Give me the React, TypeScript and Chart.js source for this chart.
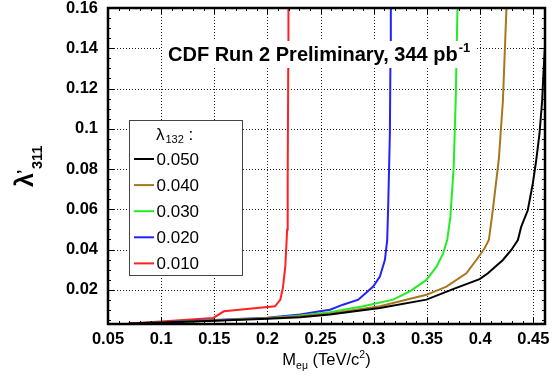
import React, { useEffect, useRef } from "react";
import { Chart, registerables } from "chart.js";

Chart.register(...registerables);

// ---- data ----
const seriesLabels = ["0.050", "0.040", "0.030", "0.020", "0.010"];
const seriesColors = ["#000000", "#a8761c", "#22ee22", "#2222ff", "#ff2222"];

const blackX = [0.07, 0.10, 0.15, 0.20, 0.2307, 0.2588, 0.3057, 0.3495, 0.3745, 0.3995, 0.4073, 0.4214, 0.4293, 0.4355, 0.4386, 0.4448, 0.4495, 0.4527, 0.4558, 0.4583, 0.4598, 0.462];
const blackY = [0.0032, 0.0037, 0.0046, 0.0056, 0.0063, 0.0077, 0.0110, 0.0151, 0.0203, 0.0253, 0.0282, 0.0348, 0.0398, 0.0447, 0.0513, 0.0595, 0.0727, 0.0842, 0.0974, 0.1138, 0.1303, 0.150];

const brownX = [0.07, 0.10, 0.15, 0.20, 0.2307, 0.2588, 0.3057, 0.3495, 0.3683, 0.387, 0.3964, 0.4042, 0.4082, 0.412, 0.4176, 0.4214, 0.4246, 0.4255];
const brownY = [0.0032, 0.0037, 0.0047, 0.0058, 0.0068, 0.0081, 0.0118, 0.0175, 0.0216, 0.0282, 0.0348, 0.0406, 0.0447, 0.0600, 0.0850, 0.1138, 0.158, 0.165];

const greenX = [0.07, 0.10, 0.15, 0.20, 0.2307, 0.2588, 0.29, 0.3182, 0.3339, 0.3495, 0.359, 0.3652, 0.369, 0.372, 0.3751, 0.377, 0.3786, 0.3792];
const greenY = [0.0032, 0.0037, 0.0048, 0.0059, 0.0072, 0.0088, 0.0118, 0.0151, 0.0192, 0.0249, 0.0315, 0.0381, 0.0447, 0.0562, 0.0809, 0.1138, 0.158, 0.165];

const blueX = [0.07, 0.10, 0.15, 0.20, 0.2307, 0.2495, 0.2588, 0.271, 0.2854, 0.2994, 0.3057, 0.3104, 0.3126, 0.3135, 0.3151, 0.3157, 0.316, 0.3162];
const blueY = [0.0032, 0.0039, 0.0050, 0.0061, 0.0077, 0.0093, 0.0101, 0.0126, 0.0151, 0.0216, 0.0266, 0.0348, 0.0447, 0.0611, 0.0974, 0.1385, 0.158, 0.165];

const redX = [0.069, 0.10, 0.149, 0.159, 0.207, 0.212, 0.2145, 0.2168, 0.2185, 0.219, 0.2195, 0.2197];
const redY = [0.0032, 0.0042, 0.0060, 0.0093, 0.0118, 0.0150, 0.0210, 0.0320, 0.0500, 0.0750, 0.1300, 0.165];

const xTicks = [0.05, 0.1, 0.15, 0.2, 0.25, 0.3, 0.35, 0.4, 0.45];
const yTicks = [0.02, 0.04, 0.06, 0.08, 0.1, 0.12, 0.14, 0.16];
const xMin = 0.05, xMax = 0.461, yMin = 0.003, yMax = 0.16;
const xMinorStep = 0.01, yMinorStep = 0.005;

const titleMain = "CDF Run 2 Preliminary, 344 pb";
const titleSup = "-1";

const FONT = "'Liberation Sans', Arial, Helvetica, sans-serif";

const pairs = (xs: number[], ys: number[]) => xs.map((x, i) => ({ x, y: ys[i] }));

const decorPlugin = {
  id: "decor",
  beforeDatasetsDraw(chart: any) {
    const { ctx, chartArea: a, scales } = chart;
    const xs = scales.x, ys = scales.y;
    ctx.save();
    ctx.strokeStyle = "#222";
    ctx.lineWidth = 1;
    ctx.setLineDash([1, 2]);
    xTicks.forEach((v) => {
      const px = Math.round(xs.getPixelForValue(v)) + 0.5;
      if (px <= a.left + 2 || px >= a.right - 2) return;
      ctx.beginPath(); ctx.moveTo(px, a.top); ctx.lineTo(px, a.bottom); ctx.stroke();
    });
    yTicks.forEach((v) => {
      const py = Math.round(ys.getPixelForValue(v)) + 0.5;
      if (py <= a.top + 2 || py >= a.bottom - 2) return;
      ctx.beginPath(); ctx.moveTo(a.left, py); ctx.lineTo(a.right, py); ctx.stroke();
    });
    ctx.restore();
  },
  afterDatasetsDraw(chart: any) {
    const { ctx, chartArea: a, scales, data } = chart;
    const xs = scales.x, ys = scales.y;
    ctx.save();
    // minor + major ticks on all sides
    ctx.strokeStyle = "#000";
    ctx.lineWidth = 1;
    for (let k = Math.ceil(xMin / xMinorStep); k * xMinorStep <= xMax + 1e-9; k++) {
      const v = k * xMinorStep;
      const major = Math.abs(v / 0.05 - Math.round(v / 0.05)) < 1e-6;
      const len = major ? 6 : 3;
      const px = Math.round(xs.getPixelForValue(v)) + 0.5;
      ctx.beginPath();
      ctx.moveTo(px, a.bottom); ctx.lineTo(px, a.bottom - len);
      ctx.moveTo(px, a.top); ctx.lineTo(px, a.top + len);
      ctx.stroke();
    }
    for (let k = Math.ceil(yMin / yMinorStep); k * yMinorStep <= yMax + 1e-9; k++) {
      const v = k * yMinorStep;
      const major = Math.abs(v / 0.02 - Math.round(v / 0.02)) < 1e-6;
      const len = major ? 6 : 3;
      const py = Math.round(ys.getPixelForValue(v)) + 0.5;
      ctx.beginPath();
      ctx.moveTo(a.left, py); ctx.lineTo(a.left + len, py);
      ctx.moveTo(a.right, py); ctx.lineTo(a.right - len, py);
      ctx.stroke();
    }
    // frame
    ctx.lineWidth = 2.5;
    ctx.strokeRect(a.left, a.top, a.right - a.left, a.bottom - a.top);

    // title box
    ctx.font = `bold 20px ${FONT}`;
    const tw = ctx.measureText(titleMain).width;
    const tx = 168, ty = 61;
    ctx.fillStyle = "#fff";
    ctx.fillRect(162, 41, tw + 24, 27);
    ctx.fillStyle = "#000";
    ctx.textAlign = "left";
    ctx.textBaseline = "alphabetic";
    ctx.fillText(titleMain, tx, ty);
    ctx.font = `bold 13px ${FONT}`;
    ctx.fillText(titleSup, tx + tw + 1, ty - 9);

    // legend box
    const lx = 129.5, ly = 120.5, lw = 113, lh = 155;
    ctx.fillStyle = "#fff";
    ctx.fillRect(lx, ly, lw, lh);
    ctx.strokeStyle = "#444";
    ctx.lineWidth = 1;
    ctx.strokeRect(lx, ly, lw, lh);
    ctx.fillStyle = "#000";
    ctx.font = `17px ${FONT}`;
    ctx.fillText("\u03bb", 156, 140);
    const lamW = ctx.measureText("\u03bb").width;
    ctx.font = `11px ${FONT}`;
    ctx.fillText("132", 156 + lamW + 1, 143);
    const subW = ctx.measureText("132").width;
    ctx.font = `17px ${FONT}`;
    ctx.fillText(" :", 156 + lamW + subW + 1, 140);
    data.datasets.forEach((ds: any, i: number) => {
      const cy = 159 + i * 26.1;
      ctx.strokeStyle = ds.borderColor;
      ctx.lineWidth = 2;
      ctx.beginPath(); ctx.moveTo(134, cy); ctx.lineTo(154, cy); ctx.stroke();
      ctx.fillStyle = "#000";
      ctx.font = `17px ${FONT}`;
      ctx.textBaseline = "middle";
      ctx.fillText(ds.label, 156.5, cy + 1);
    });
    ctx.textBaseline = "alphabetic";

    // x-axis title
    const cx = (a.left + a.right) / 2;
    const parts: [string, number, number][] = [["M", 16.5, 0], ["e\u03bc", 10.5, 4], [" (TeV/c", 16.5, 0], ["2", 10.5, -7], [")", 16.5, 0]];
    let total = 0;
    parts.forEach(([t, s]) => { ctx.font = `${s}px ${FONT}`; total += ctx.measureText(t).width; });
    let x0 = cx - total / 2;
    const by = 365;
    parts.forEach(([t, s, dy]) => {
      ctx.font = `${s}px ${FONT}`;
      ctx.fillText(t, x0, by + dy);
      x0 += ctx.measureText(t).width;
    });

    // y-axis title (rotated)
    ctx.translate(33, 187);
    ctx.rotate(-Math.PI / 2);
    ctx.font = `bold 25px ${FONT}`;
    ctx.fillText("\u03bb", 0, 0);
    const lw2 = ctx.measureText("\u03bb").width;
    ctx.font = `bold 16px ${FONT}`;
    ctx.fillText("\u2019", lw2 - 1, -4);
    ctx.font = `bold 14.5px ${FONT}`;
    ctx.fillText("311", lw2 + 4, 9);
    ctx.restore();
  },
};

export default function App() {
  const ref = useRef<HTMLCanvasElement | null>(null);
  useEffect(() => {
    if (!ref.current) return;
    const series = [pairs(blackX, blackY), pairs(brownX, brownY), pairs(greenX, greenY), pairs(blueX, blueY), pairs(redX, redY)];
    const chart = new Chart(ref.current, {
      type: "line",
      data: {
        datasets: series.map((d, i) => ({
          label: seriesLabels[i],
          data: d,
          borderColor: seriesColors[i],
          backgroundColor: seriesColors[i],
          borderWidth: 2,
          pointRadius: 0,
          tension: 0,
          fill: false,
        })),
      },
      options: {
        responsive: false,
        animation: false,
        events: [],
        layout: { padding: { left: 0, top: 8, right: 9, bottom: 0 } },
        plugins: { legend: { display: false }, tooltip: { enabled: false }, title: { display: false } },
        scales: {
          x: {
            type: "linear",
            min: xMin,
            max: xMax,
            grid: { display: false, drawTicks: false },
            border: { display: false },
            afterBuildTicks: (s: any) => { s.ticks = xTicks.map((v) => ({ value: v })); },
            afterFit: (s: any) => { s.height = 55; s.paddingLeft = 0; s.paddingRight = 0; },
            ticks: {
              autoSkip: false,
              maxRotation: 0,
              padding: 6,
              color: "#000",
              font: { family: FONT, size: 16.5, weight: "bold" },
              callback: (v: any) => String(v),
            },
          },
          y: {
            type: "linear",
            min: yMin,
            max: yMax,
            grid: { display: false, drawTicks: false },
            border: { display: false },
            afterBuildTicks: (s: any) => { s.ticks = yTicks.map((v) => ({ value: v })); },
            afterFit: (s: any) => { s.width = 108; s.paddingTop = 0; s.paddingBottom = 0; },
            ticks: {
              autoSkip: false,
              padding: 10,
              color: "#000",
              font: { family: FONT, size: 16.5, weight: "bold" },
              callback: (v: any) => String(v),
            },
          },
        },
      },
      plugins: [decorPlugin],
    } as any);
    return () => chart.destroy();
  }, []);
  return (
    <div style={{ position: "absolute", left: 0, top: 0, width: 554, height: 379, background: "#fff" }}>
      <canvas ref={ref} width={554} height={379} style={{ display: "block" }} />
    </div>
  );
}
